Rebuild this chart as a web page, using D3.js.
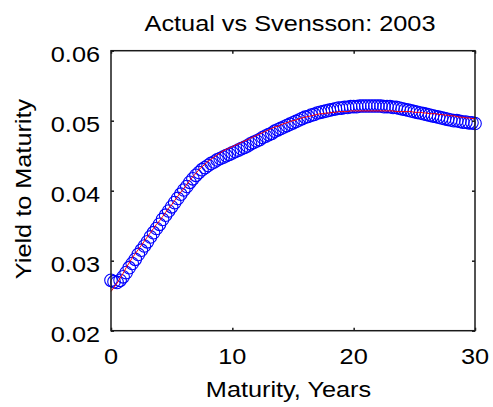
<!DOCTYPE html>
<html><head><meta charset="utf-8">
<script src="https://cdn.jsdelivr.net/npm/d3@7"></script>
<style>
body{margin:0;background:#fff}
svg{display:block}
text{font-family:"Liberation Sans",Arial,Helvetica,sans-serif;fill:#000}
</style>
</head><body>
<svg id="c" width="493" height="407"></svg>
<script>
const maturities = [0,0.25,0.5,0.75,1,1.25,1.5,1.75,2,2.25,2.5,2.75,3,3.25,3.5,3.75,4,4.25,4.5,4.75,5,5.25,5.5,5.75,6,6.25,6.5,6.75,7,7.25,7.5,7.75,8,8.25,8.5,8.75,9,9.25,9.5,9.75,10,10.25,10.5,10.75,11,11.25,11.5,11.75,12,12.25,12.5,12.75,13,13.25,13.5,13.75,14,14.25,14.5,14.75,15,15.25,15.5,15.75,16,16.25,16.5,16.75,17,17.25,17.5,17.75,18,18.25,18.5,18.75,19,19.25,19.5,19.75,20,20.25,20.5,20.75,21,21.25,21.5,21.75,22,22.25,22.5,22.75,23,23.25,23.5,23.75,24,24.25,24.5,24.75,25,25.25,25.5,25.75,26,26.25,26.5,26.75,27,27.25,27.5,27.75,28,28.25,28.5,28.75,29,29.25,29.5,29.75,30];
const actualYield = [0.0272,0.0270,0.0269,0.0272,0.0277,
0.0283,0.0290,0.0296,0.0302,
0.0309,0.0315,0.0321,0.0327,
0.0334,0.0340,0.0346,0.0352,
0.0359,0.0365,0.0371,0.0377,
0.0383,0.0389,0.0395,0.0401,
0.0406,0.0412,0.0417,0.0422,
0.0426,0.0430,0.0433,0.0436,
0.0439,0.0441,0.0444,0.0446,
0.0448,0.0450,0.0452,0.0454,
0.0456,0.0458,0.0460,0.0462,
0.0464,0.0467,0.0469,0.0471,
0.0473,0.0476,0.0478,0.0480,
0.0482,0.0485,0.0487,0.0489,
0.0491,0.0493,0.0495,0.0497,
0.0499,0.0501,0.0503,0.0505,
0.0506,0.0508,0.0509,0.0511,
0.0512,0.0513,0.0514,0.0515,
0.0516,0.0517,0.0518,0.0518,
0.0519,0.0519,0.0520,0.0520,
0.0520,0.0521,0.0521,0.0521,
0.0521,0.0521,0.0521,0.0521,
0.0521,0.0520,0.0520,0.0520,
0.0519,0.0519,0.0518,0.0517,
0.0516,0.0515,0.0514,0.0513,
0.0512,0.0511,0.0510,0.0509,
0.0508,0.0507,0.0506,0.0505,
0.0504,0.0503,0.0502,0.0501,
0.0500,0.0500,0.0499,0.0498,
0.0498,0.0497,0.0497,0.0496];
const svenssonYield = [0.0256,0.0262,0.0268,0.0275,0.0282,
0.0290,0.0297,0.0304,0.0310,
0.0316,0.0322,0.0328,0.0334,
0.0340,0.0346,0.0352,0.0357,
0.0363,0.0369,0.0375,0.0380,
0.0386,0.0392,0.0398,0.0403,
0.0409,0.0415,0.0420,0.0425,
0.0430,0.0434,0.0438,0.0442,
0.0445,0.0448,0.0451,0.0454,
0.0457,0.0459,0.0461,0.0463,
0.0465,0.0467,0.0469,0.0471,
0.0473,0.0475,0.0477,0.0479,
0.0481,0.0483,0.0485,0.0487,
0.0489,0.0491,0.0492,0.0494,
0.0496,0.0497,0.0499,0.0500,
0.0501,0.0503,0.0504,0.0505,
0.0506,0.0507,0.0508,0.0509,
0.0510,0.0510,0.0511,0.0511,
0.0512,0.0512,0.0513,0.0513,
0.0513,0.0513,0.0514,0.0514,
0.0514,0.0514,0.0514,0.0514,
0.0514,0.0514,0.0514,0.0514,
0.0514,0.0514,0.0514,0.0514,
0.0514,0.0513,0.0513,0.0513,
0.0513,0.0513,0.0513,0.0512,
0.0512,0.0512,0.0511,0.0511,
0.0510,0.0510,0.0510,0.0509,
0.0509,0.0508,0.0508,0.0507,
0.0507,0.0506,0.0505,0.0505,
0.0504,0.0504,0.0503,0.0503];
const xTicks = [0, 10, 20, 30];
const yTicks = [0.02, 0.03, 0.04, 0.05, 0.06];
const titleText = "Actual vs Svensson: 2003";
const xLabelText = "Maturity, Years";
const yLabelText = "Yield to Maturity";

const svg = d3.select("#c");
const L = 111, R = 475, T = 50.7, B = 330.7;
const FS = 22, SX = 1.15;
const x = d3.scaleLinear().domain([0, 30]).range([L, R]);
const y = d3.scaleLinear().domain([0.02, 0.06]).range([B, T]);

// data marks
const pts = maturities.map((m, i) => ({m, a: actualYield[i], s: svenssonYield[i]}));
svg.append("g").selectAll("circle").data(pts).join("circle")
  .attr("cx", d => x(d.m)).attr("cy", d => y(d.a)).attr("r", 6.3)
  .attr("fill", "none").attr("stroke", "#0000ff").attr("stroke-width", 1.1);
svg.append("path").datum(pts)
  .attr("d", d3.line().x(d => x(d.m)).y(d => y(d.s)))
  .attr("fill", "none").attr("stroke", "#ff0000").attr("stroke-width", 1);

// axes (inward ticks, box)
const axCol = "#1a1a1a";
function styleAxis(g){
  g.select(".domain").remove();
  g.selectAll("line").attr("stroke", axCol).attr("stroke-width", 1.5);
  g.selectAll("text").remove();
}
svg.append("g").attr("transform", `translate(0,${B})`)
  .call(d3.axisBottom(x).tickValues(xTicks).tickSize(-3).tickFormat("")).call(styleAxis);
svg.append("g").attr("transform", `translate(0,${T})`)
  .call(d3.axisTop(x).tickValues(xTicks).tickSize(-3).tickFormat("")).call(styleAxis);
svg.append("g").attr("transform", `translate(${L},0)`)
  .call(d3.axisLeft(y).tickValues(yTicks).tickSize(-3).tickFormat("")).call(styleAxis);
svg.append("g").attr("transform", `translate(${R},0)`)
  .call(d3.axisRight(y).tickValues(yTicks).tickSize(-3).tickFormat("")).call(styleAxis);
svg.append("rect").attr("x", L).attr("y", T).attr("width", R - L).attr("height", B - T)
  .attr("fill", "none").attr("stroke", axCol).attr("stroke-width", 1.5);

// tick labels
const fmt = d3.format(".2f");
svg.append("g").selectAll("text").data(yTicks).join("text")
  .attr("transform", d => `translate(100,${y(d) + 11.3}) scale(${SX},1)`)
  .attr("text-anchor", "end").attr("font-size", FS).text(d => fmt(d));
svg.append("g").selectAll("text").data(xTicks).join("text")
  .attr("transform", d => `translate(${x(d)},364.3) scale(${SX},1)`)
  .attr("text-anchor", "middle").attr("font-size", FS).text(d => d);

// titles
svg.append("text").attr("transform", `translate(290,31) scale(${SX},1)`)
  .attr("text-anchor", "middle").attr("font-size", FS).text(titleText);
svg.append("text").attr("transform", `translate(288.5,397) scale(${SX},1)`)
  .attr("text-anchor", "middle").attr("font-size", FS).text(xLabelText);
svg.append("text").attr("transform", `translate(30.5,189) rotate(-90) scale(${SX},1)`)
  .attr("text-anchor", "middle").attr("font-size", FS).text(yLabelText);
</script>
</body></html>
